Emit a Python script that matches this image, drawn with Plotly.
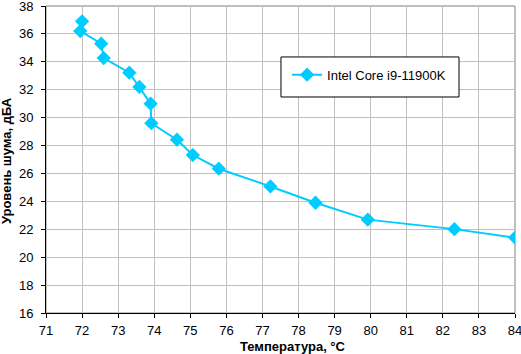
import plotly.graph_objects as go

temperature = [72.0, 71.95, 72.53, 72.6, 73.31, 73.59, 73.9, 73.92, 74.63, 75.07, 75.79, 77.22, 78.47, 79.92, 82.32, 84.0]
noise = [36.9, 36.2, 35.3, 34.27, 33.22, 32.2, 31.0, 29.6, 28.42, 27.32, 26.34, 25.07, 23.9, 22.69, 22.01, 21.4]
series_name = "Intel Core i9-11900K"
x_title = "Температура, °C"
y_title = "Уровень шума, дБА"

color = "#00CCFF"
font_family = "Liberation Sans, Arial, sans-serif"

fig = go.Figure()
fig.add_trace(go.Scatter(
    x=temperature, y=noise, mode="lines+markers", name=series_name,
    line=dict(color=color, width=2),
    marker=dict(symbol="diamond", size=11, color=color),
))

fig.update_layout(
    width=521, height=354,
    margin=dict(l=46, r=6, t=6, b=41),
    paper_bgcolor="white", plot_bgcolor="white",
    font=dict(family=font_family, size=13, color="black"),
    showlegend=True,
    legend=dict(x=0.514, y=0.825, xanchor="left", yanchor="top",
                bgcolor="rgba(0,0,0,0)", borderwidth=0,
                font=dict(size=13, family=font_family)),
    xaxis=dict(range=[71, 84], dtick=1, tick0=71, showgrid=True, gridcolor="#C0C0C0", gridwidth=1,
               showline=True, linecolor="black", linewidth=1, ticks="outside", ticklen=4,
               tickcolor="black", zeroline=False, ticklabeloverflow="allow", ticklabelstandoff=1,
               automargin=False),
    yaxis=dict(range=[16, 38], dtick=2, tick0=16, showgrid=True, gridcolor="#C0C0C0", gridwidth=1,
               showline=True, linecolor="black", linewidth=1, ticks="outside", ticklen=4,
               tickcolor="black", zeroline=False, ticklabeloverflow="allow", ticklabelstandoff=5,
               automargin=False),
    shapes=[
        dict(type="rect", xref="paper", yref="paper", x0=0, x1=1, y0=0, y1=1,
             line=dict(color="#808080", width=1), layer="below"),
        dict(type="rect", xref="paper", yref="paper", x0=0.501, x1=0.8806, y0=0.7036, y1=0.834,
             line=dict(color="black", width=1), fillcolor="white", layer="above"),
    ],
    annotations=[
        dict(text="<b>" + x_title + "</b>", xref="paper", yref="paper", x=0.5267, y=-0.1075,
             xanchor="center", yanchor="middle", showarrow=False, font=dict(size=13)),
        dict(text="<b>" + y_title + "</b>", xref="paper", yref="paper", x=-0.0853, y=0.498,
             xanchor="center", yanchor="middle", showarrow=False, textangle=-90, font=dict(size=13)),
    ],
)

fig.write_html("out.html")
